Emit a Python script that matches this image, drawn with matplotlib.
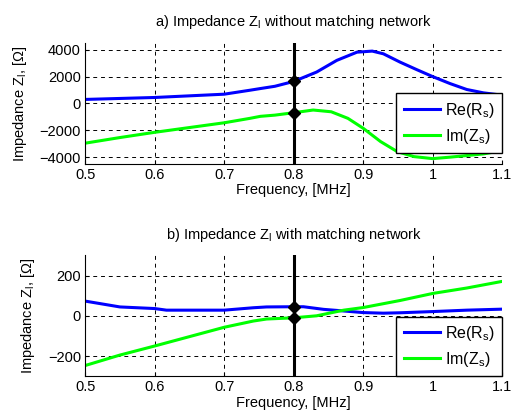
import matplotlib.pyplot as plt
import numpy as np

plt.rcParams['font.family'] = ['Liberation Sans', 'DejaVu Sans']
plt.rcParams['mathtext.fontset'] = 'custom'
plt.rcParams['mathtext.rm'] = 'Liberation Sans'
plt.rcParams['mathtext.it'] = 'Liberation Sans'

# a) without matching network
freq_a = [0.50, 0.60, 0.70, 0.737, 0.752, 0.773, 0.80, 0.833, 0.862, 0.891, 0.913, 0.929,
          0.953, 0.977, 1.00, 1.025, 1.049, 1.073, 1.10]
re_a = [300, 445, 690, 985, 1110, 1280, 1640, 2340, 3210, 3820, 3900, 3700,
        3080, 2520, 2000, 1480, 1040, 790, 615]
freq_a_im = [0.50, 0.55, 0.60, 0.70, 0.737, 0.752, 0.773, 0.80, 0.828, 0.854, 0.878, 0.90,
             0.925, 0.949, 0.973, 1.00, 1.025, 1.073, 1.10]
im_a = [-2960, -2540, -2150, -1440, -1110, -960, -870, -690, -490, -620, -1110, -1850,
        -2840, -3590, -3960, -4110, -4000, -3760, -3510]

# b) with matching network
freq_b = [0.50, 0.55, 0.60, 0.617, 0.70, 0.742, 0.761, 0.80, 0.814, 0.843, 0.872, 0.90,
          0.929, 0.953, 1.00, 1.049, 1.10]
re_b = [73, 44, 36, 28, 28, 40, 44, 45, 45, 32, 24, 16, 13, 15, 21, 28, 33]
freq_b_im = [0.50, 0.55, 0.60, 0.70, 0.742, 0.761, 0.80, 0.833, 0.872, 0.90, 0.953, 1.00,
             1.049, 1.10]
im_b = [-247, -195, -150, -57, -26, -16, -10, 0, 28, 41, 76, 111, 138, 171]

marker_f = 0.8

fig = plt.figure(figsize=(5.13, 4.18), dpi=100)
ax1 = fig.add_axes([0.166, 0.608, 0.813, 0.289])
ax2 = fig.add_axes([0.166, 0.100, 0.813, 0.289])

panels = [
    (ax1, freq_a, re_a, freq_a_im, im_a, (-4500, 4500), [-4000, -2000, 0, 2000, 4000],
     'a) Impedance Z$_\\mathregular{l}$ without matching network', 0.09),
    (ax2, freq_b, re_b, freq_b_im, im_b, (-300, 300), [-200, 0, 200],
     'b) Impedance Z$_\\mathregular{l}$ with matching network', 0.0),
]

for ax, fr, re, fi, im, ylim, yt, title, leg_y in panels:
    ax.plot(fr, re, color='#0000ff', lw=2.2, label='Re(R$_\\mathregular{s}$)')
    ax.plot(fi, im, color='#00ff00', lw=2.2, label='Im(Z$_\\mathregular{s}$)')
    ax.axvline(marker_f, color='black', lw=2.2)
    r0 = np.interp(marker_f, fr, re)
    i0 = np.interp(marker_f, fi, im)
    ax.plot([marker_f, marker_f], [r0, i0], 'D', color='black', ms=6, ls='none')
    ax.set_xlim(0.5, 1.1)
    ax.set_ylim(*ylim)
    ax.set_yticks(yt)
    ax.set_xticks([0.5, 0.6, 0.7, 0.8, 0.9, 1.0, 1.1])
    ax.set_xticklabels(['0.5', '0.6', '0.7', '0.8', '0.9', '1', '1.1'])
    ax.grid(True, color='black', ls=(0, (4, 4)), lw=0.7)
    ax.spines['top'].set_visible(False)
    ax.spines['right'].set_visible(False)
    ax.tick_params(direction='in', length=3, labelsize=10.5, pad=3)
    ax.set_title(title, fontsize=10.5, pad=12)
    ax.set_xlabel('Frequency, [MHz]', fontsize=10.5, labelpad=1)
    ax.set_ylabel('Impedance Z$_\\mathregular{l}$, [\u03a9]', fontsize=10.5, labelpad=8)
    leg = ax.legend(loc='lower right', bbox_to_anchor=(1.0, leg_y), borderaxespad=0,
                    fancybox=False, edgecolor='black', framealpha=1, fontsize=11.5,
                    handlelength=2.3, handletextpad=0.3, labelspacing=0.45, borderpad=0.45)
    leg.get_frame().set_linewidth(1.0)

fig.savefig('out.png', dpi=100)
